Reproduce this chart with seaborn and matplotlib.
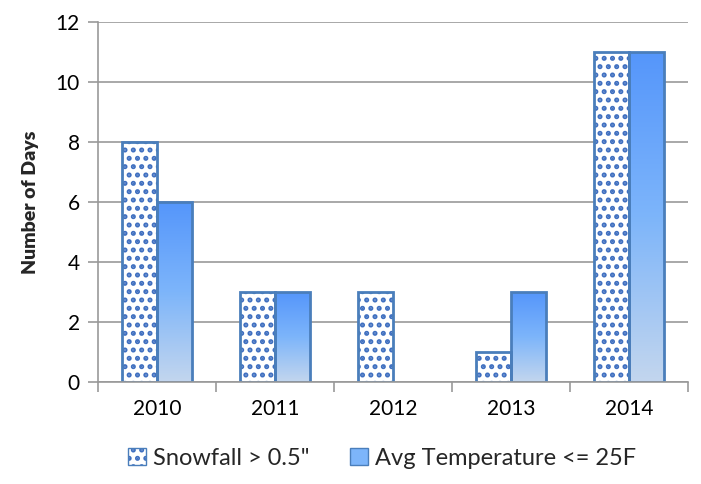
import numpy as np
import pandas as pd
import matplotlib
matplotlib.use("Agg")
import matplotlib.pyplot as plt
import seaborn as sns
from matplotlib.colors import LinearSegmentedColormap
from matplotlib.patches import Patch

years = ["2010", "2011", "2012", "2013", "2014"]
snowfall = [8, 3, 3, 1, 11]
cold_days = [6, 3, 0, 3, 11]
series_names = ["Snowfall > 0.5\"", "Avg Temperature <= 25F"]

df = pd.DataFrame({
    "Year": years * 2,
    "Days": snowfall + cold_days,
    "Series": [series_names[0]] * len(years) + [series_names[1]] * len(years),
})

sns.set_theme(style="white")
plt.rcParams["font.family"] = ["Lato", "DejaVu Sans"]
plt.rcParams["hatch.linewidth"] = 2.4

edge_blue = "#4A7EBB"
hatch_blue = matplotlib.colors.to_rgba("#3F6FC0")
grid_gray = "#999999"

fig = plt.figure(figsize=(7.01, 4.84), dpi=100)
ax = fig.add_axes([0.1398, 0.2107, 0.8417, 0.7438])

sns.barplot(data=df, x="Year", y="Days", hue="Series", width=0.6,
            palette=["white", "white"], edgecolor=edge_blue, linewidth=2,
            legend=False, ax=ax)

# hatched snowfall bars
for p in ax.containers[0]:
    p.set_hatch("..")
    p.set_facecolor("white")
    p._hatch_color = hatch_blue

# gradient temperature bars
grad = LinearSegmentedColormap.from_list("g", ["#C3D6EE", "#7DB5FA", "#5596FB"])
for p in ax.containers[1]:
    x0, y0 = p.get_x(), p.get_y()
    w, h = p.get_width(), p.get_height()
    if h <= 0:
        p.set_visible(False)
        continue
    p.set_facecolor("none")
    img = ax.imshow(np.linspace(0, 1, 256).reshape(-1, 1), cmap=grad,
                    origin="lower", aspect="auto",
                    extent=[x0, x0 + w, y0, y0 + h], zorder=p.get_zorder() - 0.1)
    img.set_clip_path(p)

ax.set_xlim(-0.5, len(years) - 0.5)
ax.set_ylim(0, 12)
ax.set_yticks(range(0, 13, 2))
ax.yaxis.grid(True, color=grid_gray, linewidth=1.2)
ax.set_axisbelow(True)

for s in ["top", "right"]:
    ax.spines[s].set_visible(False)
for s in ["left", "bottom"]:
    ax.spines[s].set_color(grid_gray)
    ax.spines[s].set_linewidth(1.2)

ax.tick_params(axis="y", length=7, width=1.2, color=grid_gray, labelsize=15,
               labelcolor="black", pad=6, direction="out", left=True)
ax.tick_params(axis="x", which="major", length=0, labelsize=15, pad=12,
               labelcolor="black")
ax.set_xticks(np.arange(-0.5, len(years)), minor=True)
ax.tick_params(axis="x", which="minor", length=7, width=1.2, color=grid_gray,
               direction="out", bottom=True)

ax.set_xlabel("")
ax.set_ylabel("Number of Days", fontsize=14, fontweight="heavy", labelpad=12)

handles = [
    Patch(facecolor="white", edgecolor=edge_blue, hatch="..", label=series_names[0]),
    Patch(facecolor="#7DB5FA", edgecolor=edge_blue, label=series_names[1]),
]
handles[0]._hatch_color = hatch_blue
fig.legend(handles=handles, loc="lower center", ncol=2, frameon=False,
           fontsize=17, bbox_to_anchor=(0.545, -0.012), handlelength=0.75,
           handleheight=0.75, handletextpad=0.3, columnspacing=1.7)

fig.savefig("out.png", dpi=100)
